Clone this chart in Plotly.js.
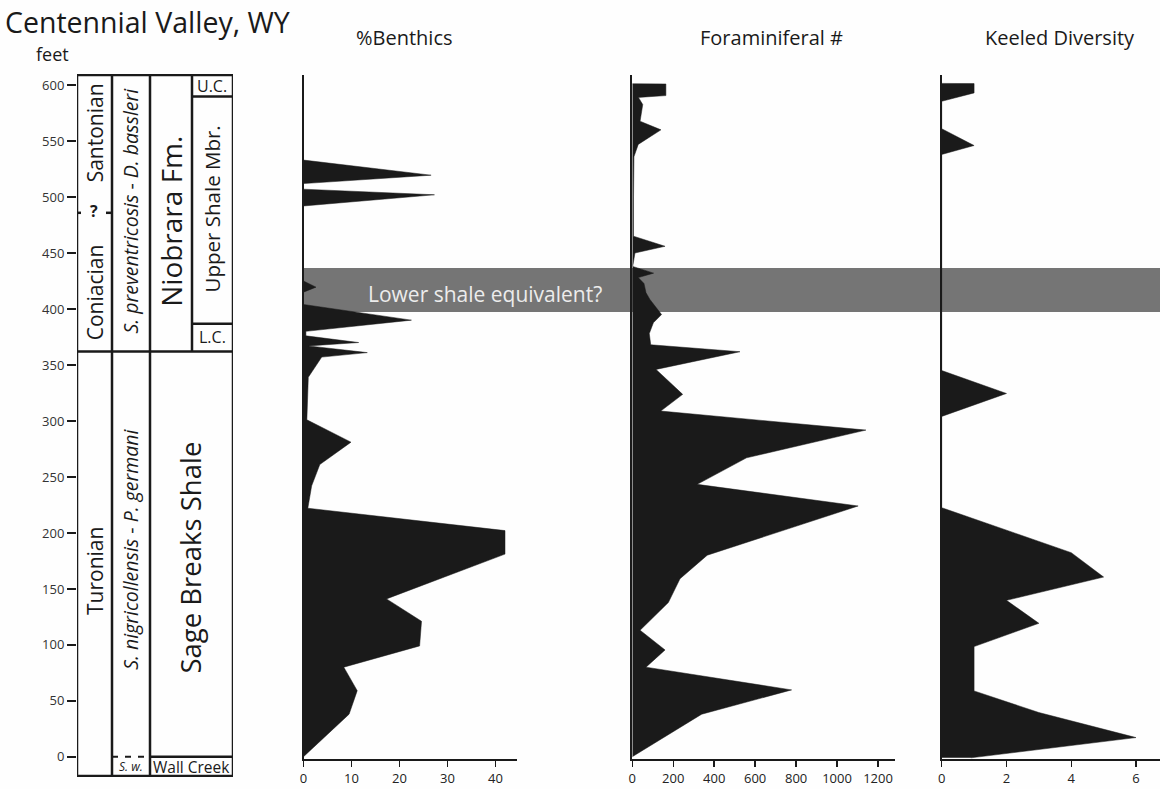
<!DOCTYPE html>
<html>
<head>
<meta charset="utf-8">
<script src="https://cdn.plot.ly/plotly-3.0.1.min.js"></script>
<style>html,body{margin:0;padding:0;background:#fff}#chart{width:1160px;height:789px}</style>
</head>
<body>
<div id="chart"></div>
<script>
// ---------------- DATA ----------------
// %Benthics profile (depth in feet, value in %)
const benthicsDepth = [0, 38, 59, 80, 99, 121, 141, 181, 202, 222, 242, 261, 281, 301, 339, 357, 361, 367, 370, 376, 380, 390, 404, 415, 419.5, 425, 492, 502, 507, 512, 519.5, 533];
const benthicsPct   = [0, 9.5, 11.2, 8.4, 24.2, 24.6, 17.3, 42, 42, 0.9, 1.7, 3.4, 9.9, 0.7, 1, 3.8, 13.3, 1, 11.5, 0.5, 0.5, 22.5, 0, 0, 2.6, 0, 0, 27.3, 0, 0, 26.6, 0];

// Foraminiferal number profile
const foramDepth = [0, 38, 59.7, 80, 95.4, 113, 137.7, 159, 180, 224, 243.3, 267, 291.8, 308.8, 323.7, 346, 361.8, 368, 378, 387.7, 395, 408.5, 414.5, 422.8, 428, 432, 438, 450, 456, 465, 500, 536, 547, 560, 567.7, 582.6, 589, 590.6, 601, 601.2];
const foramCount = [0, 339, 778, 67, 160, 38, 176, 233, 366, 1103, 317, 558, 1141, 139, 246, 116, 526, 90, 83, 103, 143, 86, 67, 57, 29, 104, 2, 13, 160, 6, 6, 8, 29, 140, 38, 51, 30, 164, 164, 0];

// Keeled diversity profile
const keeledDepth = [-1, 17.1, 39.5, 58.8, 98.4, 119.2, 139.7, 160.5, 182.3, 222.5, 304, 324.5, 345, 538, 546, 561, 585.5, 593, 601.3, 601.5];
const keeledDiv   = [0.9, 6, 3, 1, 1, 3, 2, 5, 4, 0, 0, 2, 0, 0, 1, 0, 0, 1, 1, 0];

// Stratigraphic boundaries (feet)
const sectionBase = -17, sectionTop = 609;
const niobraraBase = 362;     // Sage Breaks / Niobrara, Turonian / Coniacian
const ucBase = 590;           // base of U.C.
const lcTop = 387;            // top of L.C.
const wallCreekTop = 0;
const coniacianTop = 486;     // Coniacian / Santonian (uncertain)
const bandBase = 397.3, bandTop = 436.6;  // Lower shale equivalent?

const panelTitles = ['%Benthics', 'Foraminiferal #', 'Keeled Diversity'];
const yTicks = [0, 50, 100, 150, 200, 250, 300, 350, 400, 450, 500, 550, 600];

// ---------------- LAYOUT HELPERS ----------------
const W = 1160, H = 789, ML = 77, MR = 0, MT = 74, MB = 12;
const PW = W - ML - MR, PH = H - MT - MB;
const px = x => (x - ML) / PW;           // pixel x -> paper x
const py = y => (H - MB - y) / PH;       // pixel y -> paper y

const FONT = '"Open Sans", "Noto Sans", sans-serif';
const INK = '#1a1a1a';

const fillTrace = (xs, ys, xa, ya) => ({
  type: 'scatter', mode: 'lines', x: xs, y: ys, xaxis: xa, yaxis: ya,
  fill: 'tozerox', fillcolor: INK, line: {color: INK, width: 0.5},
  hoverinfo: 'skip', showlegend: false
});

const traces = [
  fillTrace(benthicsPct, benthicsDepth, 'x', 'y2'),
  fillTrace(foramCount, foramDepth, 'x2', 'y3'),
  fillTrace(keeledDiv, keeledDepth, 'x3', 'y4'),
  {type: 'scatter', mode: 'markers', x: [], y: [], xaxis: 'x4', yaxis: 'y', showlegend: false}
];

const panelYDomain = [py(759), py(75)];
const panelYRange = [609 - (759 - 75) / (PH / (610 - (-18))), 609];

const panelY = (anchor) => ({
  domain: panelYDomain, range: panelYRange, anchor: anchor,
  showline: true, linecolor: INK, linewidth: 2, ticks: '', showticklabels: false,
  showgrid: false, zeroline: false, fixedrange: true
});
const panelX = (anchor, dom, rng, dtick) => ({
  domain: dom, range: rng, anchor: anchor, dtick: dtick, tick0: 0,
  showline: true, linecolor: INK, linewidth: 2, ticks: 'outside', ticklen: 6, tickwidth: 1.5, tickcolor: INK,
  tickfont: {family: FONT, size: 13, color: '#222'}, showgrid: false, zeroline: false, fixedrange: true
});

// Column geometry (x4 units = pixels from column left edge)
const C0 = 0, C1 = 35, C2 = 73, C3 = 115, C4 = 156;
const LW = 2.5;
const ln = (x0, y0, x1, y1, extra) => Object.assign({type: 'line', xref: 'x4', yref: 'y', x0, y0, x1, y1,
  line: {color: INK, width: LW}, layer: 'above'}, extra || {});

const shapes = [
  {type: 'rect', xref: 'paper', yref: 'y', x0: px(303.5), x1: 1, y0: bandBase, y1: bandTop,
   fillcolor: 'rgb(117,117,117)', line: {width: 0}, layer: 'below'},
  {type: 'rect', xref: 'x4', yref: 'y', x0: C0, x1: C4, y0: sectionBase, y1: sectionTop, line: {color: INK, width: LW}, layer: 'above'},
  ln(C1, sectionBase, C1, sectionTop),
  ln(C2, sectionBase, C2, sectionTop),
  ln(C3, niobraraBase, C3, sectionTop),
  ln(C0, niobraraBase, C4, niobraraBase),
  ln(C3, ucBase, C4, ucBase),
  ln(C3, lcTop, C4, lcTop),
  ln(C2, wallCreekTop, C4, wallCreekTop),
  ln(C1, wallCreekTop, C2, wallCreekTop, {line: {color: INK, width: 2, dash: '6px,7px'}}),
  ln(C0, coniacianTop, 4, coniacianTop),
  ln(29, coniacianTop, C1, coniacianTop)
];

const colText = (text, x, y, size, angle, extra) => Object.assign({
  text, xref: 'x4', yref: 'y', x, y, showarrow: false, textangle: angle,
  font: {family: FONT, size, color: INK}, xanchor: 'center', yanchor: 'middle'
}, extra || {});

const annotations = [
  {text: 'Centennial Valley, WY', xref: 'paper', yref: 'paper', x: px(3), y: py(22), xanchor: 'left', yanchor: 'middle',
   showarrow: false, font: {family: FONT, size: 28.5, color: INK}},
  {text: 'feet', xref: 'paper', yref: 'paper', x: px(34), y: py(54), xanchor: 'left', yanchor: 'middle',
   showarrow: false, font: {family: FONT, size: 18, color: INK}},
  {text: panelTitles[0], xref: 'paper', yref: 'paper', x: px(404), y: py(37), xanchor: 'center', yanchor: 'middle',
   showarrow: false, font: {family: FONT, size: 20, color: INK}},
  {text: panelTitles[1], xref: 'paper', yref: 'paper', x: px(771), y: py(37), xanchor: 'center', yanchor: 'middle',
   showarrow: false, font: {family: FONT, size: 20, color: INK}},
  {text: panelTitles[2], xref: 'paper', yref: 'paper', x: px(1060), y: py(37), xanchor: 'center', yanchor: 'middle',
   showarrow: false, font: {family: FONT, size: 20, color: INK}},
  {text: 'Lower shale equivalent?', xref: 'paper', yref: 'y', x: px(366), y: 413.5, xanchor: 'left', yanchor: 'middle',
   showarrow: false, font: {family: FONT, size: 21, color: '#ececec'}},
  colText('Turonian', 18, 166, 21, -90),
  colText('Coniacian', 18, 415, 21, -90),
  colText('Santonian', 18, 557, 21, -90),
  colText('<b>?</b>', 17, 488, 16, 0),
  colText('<i>S. preventricosis</i> - <i>D. bassleri</i>', 54, 488, 19.5, -90),
  colText('<i>S. nigricollensis</i> - <i>P. germani</i>', 54, 185, 19.5, -90),
  colText('<i>S. w.</i>', 54, -9, 12, 0),
  colText('Niobrara Fm.', 94, 478, 28, -90),
  colText('Upper Shale Mbr.', 135, 489, 20.5, -90),
  colText('U.C.', 135, 599.5, 16, 0),
  colText('L.C.', 135, 375, 16, 0),
  colText('Sage Breaks Shale', 114, 178, 27.5, -90),
  colText('Wall Creek', 114, -9, 15.5, 0)
];

const layout = {
  width: W, height: H,
  margin: {l: ML, r: MR, t: MT, b: MB, pad: 0},
  paper_bgcolor: '#fefefe', plot_bgcolor: 'rgba(0,0,0,0)',
  showlegend: false,
  font: {family: FONT, color: INK},
  xaxis4: {domain: [0, px(233)], range: [0, 156], anchor: 'y', visible: false, fixedrange: true},
  yaxis: {domain: [0, 1], range: [-18, 610], anchor: 'x4', tickvals: yTicks, ticks: 'outside', ticklen: 9,
          tickwidth: 1.5, tickcolor: INK, showline: false, showgrid: false, zeroline: false,
          tickfont: {family: FONT, size: 13, color: '#333'}, fixedrange: true},
  xaxis:  panelX('y2', [px(303.5), px(517)], [0, 44.5], 10),
  xaxis2: panelX('y3', [px(632.3), px(895)], [0, 1283], 200),
  xaxis3: panelX('y4', [px(941.7), 1], [0, 6.74], 2),
  yaxis2: panelY('x'),
  yaxis3: panelY('x2'),
  yaxis4: panelY('x3'),
  shapes, annotations
};

Plotly.newPlot('chart', traces, layout, {displayModeBar: false, staticPlot: true});
</script>
</body>
</html>
